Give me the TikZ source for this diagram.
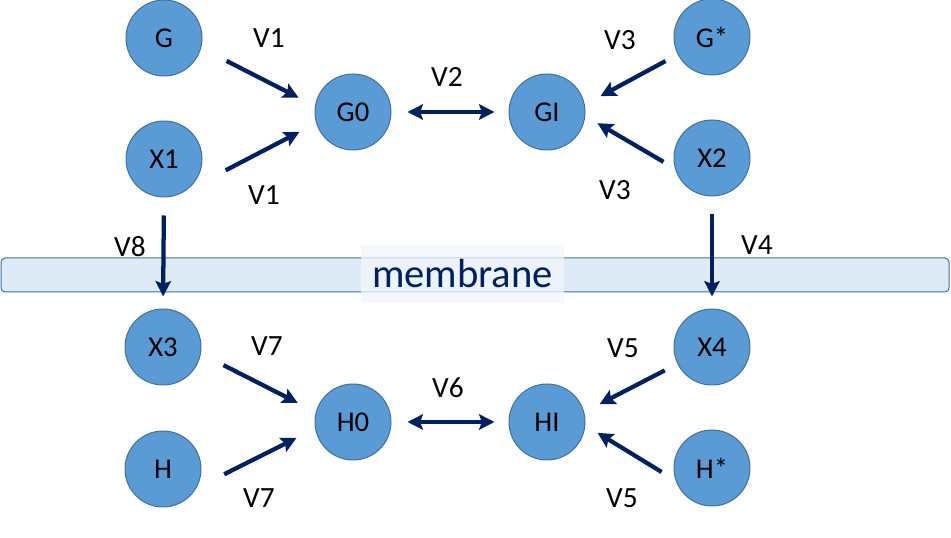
\documentclass[tikz,border=0pt]{standalone}
\usepackage{fontspec}
\setmainfont{Carlito}
\usetikzlibrary{arrows.meta}
\definecolor{CircFill}{HTML}{5B9BD5}
\definecolor{CircEdge}{HTML}{41719C}
\definecolor{Navy}{HTML}{002060}
\definecolor{MemFill}{HTML}{DEEBF7}
\definecolor{MemBox}{HTML}{F2F7FC}
\tikzset{
    >={Stealth[length=11.5pt,width=11.5pt,inset=2pt]},
    species/.style = {draw=CircEdge, fill=CircFill, circle,
        line width=0.75pt, minimum size=57pt, inner sep=0pt,
        font=\fontsize{21.5}{25}\selectfont},
    rate/.style = {inner sep=0pt, font=\fontsize{22}{26}\selectfont},
    flux/.style = {draw=Navy, line width=3.2pt, ->},
    exch/.style = {draw=Navy, line width=3.2pt, <->}
}
\begin{document}
\begin{tikzpicture}[x=0.75pt,y=-0.75pt]
    \useasboundingbox (0,0) rectangle (951,538);
    % membrane band
    \draw[draw=CircEdge, fill=MemFill, line width=0.75pt, rounded corners=3pt] (1,258) rectangle (949,292);
    \node[fill=MemBox, fill opacity=0.75, text opacity=1, text=Navy,
        minimum width=152pt, minimum height=43.5pt,
        font=\fontsize{30.5}{36}\selectfont] (mem) at (462.5,274) {membrane};
    % outside species
    \node[species] (G) at (164,38) {G};
    \node[species] (X1) at (164,159) {X1};
    \node[species] (G0) at (353,112) {G0};
    \node[species] (GI) at (547,112) {GI};
    \node[species] (Gs) at (712,37) {G*};
    \node[species] (X2) at (712,158) {X2};
    % inside species
    \node[species] (X3) at (163,347) {X3};
    \node[species] (H) at (163,469) {H};
    \node[species] (H0) at (353,422) {H0};
    \node[species] (HI) at (547,422) {HI};
    \node[species] (X4) at (712,347) {X4};
    \node[species] (Hs) at (712,468) {H*};
    % fluxes
    \draw[flux, shorten <=21.4pt, shorten >=13.8pt] (G.-15) -- (G0.171);
    \draw[flux, shorten <=36.9pt, shorten >=14.1pt] (X1.-62) -- (G0.197);
    \draw[flux, shorten <=10.4pt, shorten >=13.4pt] (Gs.207) -- (GI.11.5);
    \draw[flux, shorten <=10pt, shorten >=10.6pt] (X2.196) -- (GI.-6);
    \draw[exch, shorten <=12pt, shorten >=10.5pt] (G0.east) -- (GI.west);
    \draw[flux, shorten <=13.5pt, shorten >=9pt] (X1.south) -- (X3.north);
    \draw[flux, shorten <=13.5pt, shorten >=9pt] (X2.south) -- (X4.north);
    \draw[flux, shorten <=19pt, shorten >=15.2pt] (X3.-10) -- (H0.165);
    \draw[flux, shorten <=23.4pt, shorten >=15.6pt] (H.-30) -- (H0.190);
    \draw[flux, shorten <=10.7pt, shorten >=13pt] (X4.206) -- (HI.15);
    \draw[flux, shorten <=12.3pt, shorten >=10.7pt] (Hs.199) -- (HI.-5);
    \draw[exch, shorten <=12pt, shorten >=10.5pt] (H0.east) -- (HI.west);
    % rate labels
    \node[rate] (v1a) at (269,38) {V1};
    \node[rate] (v1b) at (264,195) {V1};
    \node[rate] (v2) at (447,77) {V2};
    \node[rate] (v3a) at (620,40) {V3};
    \node[rate] (v3b) at (615,190) {V3};
    \node[rate] (v8) at (130,247) {V8};
    \node[rate] (v4) at (757,245) {V4};
    \node[rate] (v7a) at (267,346) {V7};
    \node[rate] (v7b) at (259,498) {V7};
    \node[rate] (v6) at (448,388) {V6};
    \node[rate] (v5a) at (623,348) {V5};
    \node[rate] (v5b) at (622,498) {V5};
\end{tikzpicture}
\end{document}
